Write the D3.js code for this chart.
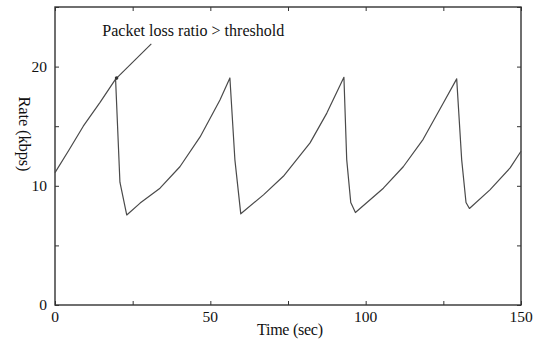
<!DOCTYPE html>
<html>
<head>
<meta charset="utf-8">
<script src="https://cdn.jsdelivr.net/npm/d3@7"></script>
<style>
  body { margin: 0; background: #fff; }
  svg text { font-family: "Liberation Serif", "DejaVu Serif", serif; fill: #111; }
</style>
</head>
<body>
<svg id="chart" width="539" height="342"></svg>
<script>
// rate trace (sec, kbps)
var time = [0, 4.5, 9.1, 14.5, 19.5, 20.9, 23.1, 27.4, 33.8, 40.2, 46.7, 53.1, 56.3, 57.9, 59.8,
            67.1, 73.5, 82.1, 87.5, 93.0, 93.9, 95.2, 96.7, 105.7, 112.1, 118.5, 125.0,
            129.3, 130.9, 132.3, 133.4, 140.0, 146.5, 150];
var rate = [11.1, 13.0, 15.0, 17.0, 18.95, 10.3, 7.55, 8.55, 9.8, 11.6, 14.1, 17.2, 19.05, 12.2, 7.65,
            9.24, 10.8, 13.6, 16.1, 19.1, 12.2, 8.6, 7.76, 9.8, 11.6, 13.9, 16.95,
            18.97, 12.2, 8.6, 8.1, 9.66, 11.5, 12.9];

var xTicks = [0, 25, 50, 75, 100, 125, 150];
var xLabels = [0, 50, 100, 150];
var yTicks = [0, 5, 10, 15, 20, 25];
var yLabels = [0, 10, 20];

var note = "Packet loss ratio > threshold";
var notePeak = [19.5, 18.95];   // arrow tip
var noteTail = [31.0, 21.9];    // arrow start

var margin = { top: 7, right: 18, bottom: 37, left: 55 };
var svg = d3.select("#chart");
var width = 539 - margin.left - margin.right;
var height = 342 - margin.top - margin.bottom;
var g = svg.append("g").attr("transform", "translate(" + margin.left + "," + margin.top + ")");

var x = d3.scaleLinear().domain([0, 150]).range([0, width]);
var y = d3.scaleLinear().domain([0, 25]).range([height, 0]);

// inward ticks on all four sides, labels only on bottom/left
function inward(axis, ticks) { return axis.tickValues(ticks).tickSize(-4).tickFormat(""); }

g.append("g").attr("transform", "translate(0," + height + ")").call(inward(d3.axisBottom(x), xTicks));
g.append("g").call(inward(d3.axisTop(x), xTicks));
g.append("g").call(inward(d3.axisLeft(y), yTicks));
g.append("g").attr("transform", "translate(" + width + ",0)").call(inward(d3.axisRight(y), yTicks));
g.selectAll(".domain").remove();
g.selectAll(".tick line").attr("stroke", "#333").attr("stroke-width", 1);

g.append("rect")
  .attr("width", width).attr("height", height)
  .attr("fill", "none").attr("stroke", "#333").attr("stroke-width", 1.4);

g.selectAll("text.xl").data(xLabels).enter().append("text")
  .attr("class", "xl")
  .attr("x", function(d) { return x(d); })
  .attr("y", height + 17)
  .attr("text-anchor", "middle")
  .style("font-size", "15.5px")
  .text(function(d) { return d; });

g.selectAll("text.yl").data(yLabels).enter().append("text")
  .attr("class", "yl")
  .attr("x", -8)
  .attr("y", function(d) { return y(d) + 5; })
  .attr("text-anchor", "end")
  .style("font-size", "15.5px")
  .text(function(d) { return d; });

svg.append("text")
  .attr("x", 290)
  .attr("y", 335)
  .attr("text-anchor", "middle")
  .style("font-size", "16px")
  .attr("textLength", 66)
  .text("Time (sec)");

svg.append("text")
  .attr("transform", "translate(19," + 134 + ") rotate(90)")
  .attr("text-anchor", "middle")
  .style("font-size", "16.5px")
  .attr("textLength", 75)
  .text("Rate (kbps)");

var line = d3.line()
  .x(function(d, i) { return x(time[i]); })
  .y(function(d) { return y(d); });

g.append("path")
  .datum(rate)
  .attr("d", line)
  .attr("fill", "none")
  .attr("stroke", "#4a4a4a")
  .attr("stroke-width", 1.2)
  .attr("stroke-linejoin", "round");

// annotation
g.append("line")
  .attr("x1", x(noteTail[0])).attr("y1", y(noteTail[1]))
  .attr("x2", x(notePeak[0])).attr("y2", y(notePeak[1]))
  .attr("stroke", "#444").attr("stroke-width", 1.1);
g.append("circle")
  .attr("cx", x(notePeak[0]) + 1).attr("cy", y(notePeak[1]) - 1)
  .attr("r", 1.8).attr("fill", "#333");

g.append("text")
  .attr("x", x(noteTail[0]) - 49)
  .attr("y", y(noteTail[1]) - 8)
  .style("font-size", "16.5px")
  .attr("textLength", 182)
  .attr("lengthAdjust", "spacingAndGlyphs")
  .text(note);
</script>
</body>
</html>
